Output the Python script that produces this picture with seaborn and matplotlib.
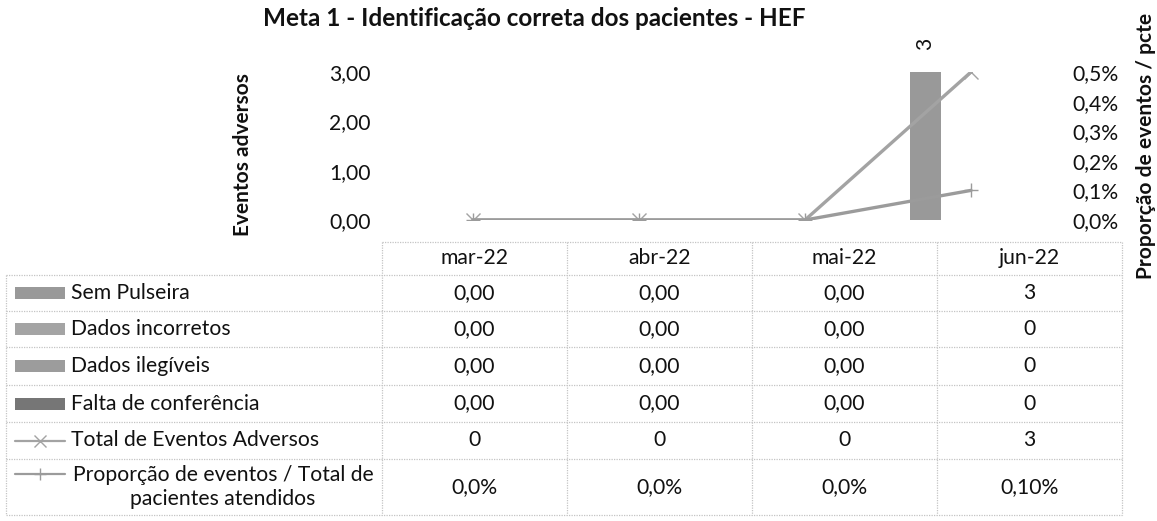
import numpy as np
import pandas as pd
import matplotlib
matplotlib.use("Agg")
import matplotlib.pyplot as plt
from matplotlib.lines import Line2D
from matplotlib.patches import Rectangle
import seaborn as sns

# ---- data ----
months = ["mar-22", "abr-22", "mai-22", "jun-22"]
series_names = ["Sem Pulseira", "Dados incorretos", "Dados ilegíveis", "Falta de conferência"]
sem_pulseira = [0, 0, 0, 3]
dados_incorretos = [0, 0, 0, 0]
dados_ilegiveis = [0, 0, 0, 0]
falta_conferencia = [0, 0, 0, 0]
total_eventos = [0, 0, 0, 3]
proporcao = [0.0, 0.0, 0.0, 0.001]
eventos_ticks = [0, 1, 2, 3]
proporcao_ticks = [0.0, 0.001, 0.002, 0.003, 0.004, 0.005]

total_label = "Total de Eventos Adversos"
proporcao_label = "Proporção de eventos / Total de\npacientes atendidos"

# ---- style ----
sns.set_theme(style="white")
plt.rcParams["font.family"] = ["Lato", "DejaVu Sans"]
plt.rcParams["text.color"] = "#111111"
bar_colors = ["#999999", "#a4a4a4", "#9c9c9c", "#767676"]
total_color = "#a3a3a3"
prop_color = "#9b9b9b"
grid_color = "#c4c4c4"
FS = 15.2

W, H = 1157, 521
fig = plt.figure(figsize=(W / 100, H / 100), dpi=100)


def fx(x):
    return x / W


def fy(y):
    return 1 - y / H


# plot area
left, right, top, bottom = 390, 1054, 72, 220
ax = fig.add_axes([fx(left), fy(bottom), fx(right - left), (bottom - top) / H])

bars = pd.DataFrame({
    "mes": np.repeat(months, len(series_names)),
    "tipo": series_names * len(months),
    "valor": np.array([sem_pulseira, dados_incorretos, dados_ilegiveis, falta_conferencia]).T.ravel(),
})
sns.barplot(data=bars, x="mes", y="valor", hue="tipo", hue_order=series_names,
            palette=bar_colors, width=0.73, dodge=True, ax=ax, legend=False,
            saturation=1, linewidth=0, zorder=2)
ax.set_xlim(-0.5, len(months) - 0.5)
ax.set_ylim(0, max(eventos_ticks))
ax.set_yticks(eventos_ticks)
ax.set_yticklabels([f"{v:.2f}".replace(".", ",") for v in eventos_ticks], fontsize=FS,
                   color="#111111")
ax.set_xticks([])
ax.set_xlabel("")
ax.set_ylabel("Eventos adversos", fontsize=15, fontweight="bold", color="#111111")
ax.yaxis.set_label_coords(-0.207, 0.44)
ax.tick_params(axis="y", length=0, pad=14)
for s in ax.spines.values():
    s.set_visible(False)

# value label above the non-empty bar
for cont in ax.containers:
    for rect in cont:
        h = rect.get_height()
        if h > 0:
            ax.text(rect.get_x() + rect.get_width() / 2, h + 0.45, f"{h:.0f}",
                    rotation=90, ha="center", va="bottom", fontsize=FS)

xpos = np.arange(len(months))
sns.lineplot(x=xpos, y=total_eventos, ax=ax, color=total_color, linewidth=2.4,
             marker="x", markersize=10, markeredgewidth=1.0, markeredgecolor=total_color,
             zorder=4)

ax2 = ax.twinx()
sns.lineplot(x=xpos, y=proporcao, ax=ax2, color=prop_color, linewidth=2.4,
             marker="+", markersize=10, markeredgewidth=1.0, markeredgecolor=prop_color,
             zorder=4)
ax2.set_ylim(0, max(proporcao_ticks))
ax2.set_yticks(proporcao_ticks)
ax2.set_yticklabels([f"{v * 100:.1f}%".replace(".", ",") for v in proporcao_ticks], fontsize=FS,
                    color="#111111")
ax2.tick_params(axis="y", length=0, pad=13)
ax2.set_ylabel("Proporção de eventos / pcte", fontsize=15, fontweight="bold", color="#111111")
ax2.yaxis.set_label_coords(1.124, 0.5)
for s in ax2.spines.values():
    s.set_visible(False)

fig.text(fx(534), fy(19), "Meta 1 - Identificação correta dos pacientes - HEF",
         ha="center", va="center", fontsize=17.5, fontweight="bold")

# ---- data table ----
col_edges = [382, 567, 752, 937, 1122]
row_edges = [242, 275, 311, 347, 385, 422, 459, 515]
tbl_left = 6


def hline(y, x0, x1):
    fig.add_artist(Line2D([fx(x0), fx(x1)], [fy(y), fy(y)], color=grid_color,
                          lw=0.9, ls=(0, (1, 1))))


def vline(x, y0, y1):
    fig.add_artist(Line2D([fx(x), fx(x)], [fy(y0), fy(y1)], color=grid_color,
                          lw=0.9, ls=(0, (1, 1))))


hline(row_edges[0], col_edges[0], col_edges[-1])
for y in row_edges[1:]:
    hline(y, tbl_left, col_edges[-1])
vline(tbl_left, row_edges[1], row_edges[-1])
for x in col_edges:
    vline(x, row_edges[0], row_edges[-1])

centers = [(row_edges[i] + row_edges[i + 1]) / 2 for i in range(len(row_edges) - 1)]
col_centers = [(col_edges[i] + col_edges[i + 1]) / 2 for i in range(len(months))]

for cx, m in zip(col_centers, months):
    fig.text(fx(cx), fy(centers[0]), m, ha="center", va="center", fontsize=FS)

count_fmt = ["{:.2f}", "{:.2f}", "{:.2f}", "{:.0f}"]
pct_fmt = ["{:.1%}", "{:.1%}", "{:.1%}", "{:.2%}"]
table_rows = [
    (series_names[0], [f.format(v) for f, v in zip(count_fmt, sem_pulseira)]),
    (series_names[1], [f.format(v) for f, v in zip(count_fmt, dados_incorretos)]),
    (series_names[2], [f.format(v) for f, v in zip(count_fmt, dados_ilegiveis)]),
    (series_names[3], [f.format(v) for f, v in zip(count_fmt, falta_conferencia)]),
    (total_label, [f"{v:.0f}" for v in total_eventos]),
    (proporcao_label, [f.format(v) for f, v in zip(pct_fmt, proporcao)]),
]

key_x0, key_x1 = 15, 65
for i, (label, cells) in enumerate(table_rows):
    cy = centers[i + 1]
    for cx, c in zip(col_centers, cells):
        fig.text(fx(cx), fy(cy), c.replace(".", ","), ha="center", va="center", fontsize=FS)
    if i < 4:
        fig.add_artist(Rectangle((fx(key_x0), fy(cy + 6)), fx(key_x1 - key_x0), 12 / H,
                                 facecolor=bar_colors[i], edgecolor="none"))
        fig.text(fx(71), fy(cy), label, ha="left", va="center", fontsize=FS)
    elif i == 4:
        fig.add_artist(Line2D([fx(key_x0), fx(key_x1)], [fy(cy), fy(cy)], color=total_color,
                              lw=1.6))
        fig.add_artist(Line2D([fx((key_x0 + key_x1) / 2)], [fy(cy)], color=total_color,
                              marker="x", markersize=9, markeredgewidth=1.0))
        fig.text(fx(71), fy(cy), label, ha="left", va="center", fontsize=FS)
    else:
        ky = cy - 13
        fig.add_artist(Line2D([fx(key_x0), fx(key_x1)], [fy(ky), fy(ky)], color=prop_color,
                              lw=1.6))
        fig.add_artist(Line2D([fx((key_x0 + key_x1) / 2)], [fy(ky)], color=prop_color,
                              marker="+", markersize=9, markeredgewidth=1.0))
        fig.text(fx(223), fy(cy), label, ha="center", va="center", fontsize=FS,
                 multialignment="center", linespacing=1.2)

fig.savefig("out.png", dpi=100)
